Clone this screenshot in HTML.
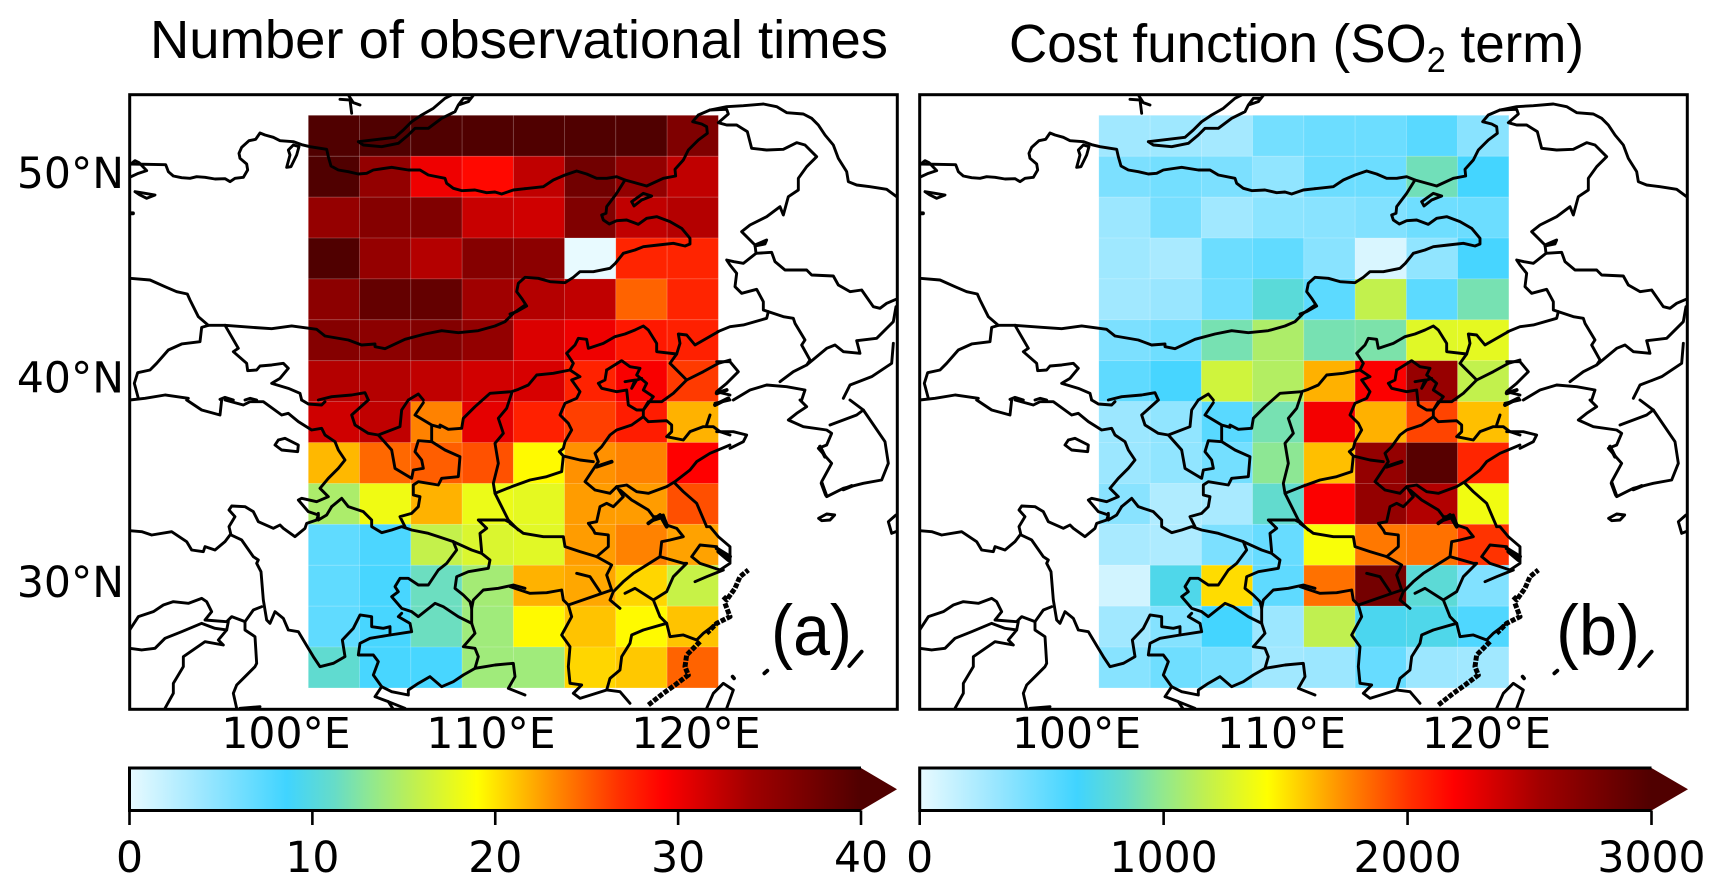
<!DOCTYPE html>
<html lang="en">
<head>
<meta charset="utf-8">
<title>Number of observational times and cost function maps</title>
<style>
html,body{margin:0;padding:0;background:#fff;}
svg{display:block;}
.map-line{fill:none;stroke:#000;stroke-width:2.9;stroke-linejoin:round;stroke-linecap:round;vector-effect:non-scaling-stroke;}
.map-thick{fill:none;stroke:#000;stroke-width:3.8;stroke-linejoin:round;stroke-linecap:round;vector-effect:non-scaling-stroke;}
.map-coast{fill:none;stroke:#000;stroke-width:5;stroke-linejoin:round;stroke-linecap:butt;stroke-dasharray:5 1.5;vector-effect:non-scaling-stroke;}
.tick-label{font-family:"DejaVu Sans","Liberation Sans",sans-serif;font-size:42.5px;fill:#000;}
.title{font-family:"Liberation Sans",sans-serif;font-size:54px;fill:#000;}
.panel-letter{font-family:"Liberation Sans",sans-serif;font-size:71px;fill:#000;}
</style>
</head>
<body>
<svg id="figure" xmlns="http://www.w3.org/2000/svg" width="1721" height="892" viewBox="0 0 1721 892">
<defs>
<clipPath id="clip-a"><rect x="129.7" y="94.7" width="767.6" height="614.6"/></clipPath>
<clipPath id="clip-b"><rect x="919.7" y="94.7" width="767.6" height="614.6"/></clipPath>
<g id="basemap">
<g transform="translate(125,90) scale(0.33333)">
<path class="map-line" d="M14,222 122,224 130,245 145,258 170,263 195,265 215,260 240,262 270,267 300,266 315,275 330,265 355,262 368,240 365,222 345,205 342,190 350,172 372,152 392,148 405,129 420,135 445,142 465,152 505,155 530,164 555,170 605,178 610,200 618,228 640,240 670,245 700,252 725,250 745,240 800,232 850,240 885,240 910,255 960,265 965,280 985,295 1010,302 1050,300 1085,308 1110,306 1130,312 1165,300 1200,296"/>
<path class="map-line" d="M1200,645 1165,670 1140,695 1110,708 1060,722 1000,728 950,722 900,732 840,748 780,776 750,770 750,762 710,765 670,750 600,738 575,718 500,708 440,716 380,712 300,706 250,706 220,680 195,630 187,612 155,605 120,590 75,570 15,565"/>
<path class="map-line" d="M300,706 340,775 325,785 365,820 368,842 395,840 405,828 440,825 475,820 490,835 465,865 440,880 490,895 525,910 530,930"/>
<path class="map-line" d="M250,706 230,712 225,755 170,762 130,780 95,820 75,840 38,848 28,880 40,925"/>
<path class="map-line" d="M14,930 60,925 120,915 190,925"/>
<path class="map-line" d="M285,928 300,922 325,930M360,930 375,925 395,930"/>
<path class="map-line" d="M580,930 620,920 680,915 720,908 730,930M850,930 880,912 895,930"/>
<path class="map-line" d="M700,155 760,148 810,142 835,120 860,95 890,75 925,55 960,25 978,16M700,155 715,165 770,170 820,160 850,135 870,115 910,115 950,85 990,65 1000,45 1030,35 1045,16M1000,45 1015,25 1035,25 1030,35"/>
<path class="map-line" d="M645,28 675,30 680,70M672,18 685,38 705,45"/>
<path class="map-line" d="M505,165 490,180 495,195 485,232 498,230 515,195 522,170 505,165"/>
<path class="map-line" d="M30,305 60,310 90,315 65,325 45,315 30,305"/>
<path class="map-line" d="M14,225 30,212 42,218 65,242 40,250 14,262"/>
<path class="map-thick" d="M16,370 24,370"/>
</g>
<g transform="translate(510,90) scale(0.33333)">
<path class="map-line" d="M45,296 100,290 130,270 165,255 200,243 230,252 260,265 290,265 320,260 345,270 410,288 460,265 497,258 495,238 520,210 535,180 565,150 592,130 590,110 575,102 548,95 565,75 600,60 650,50 700,47 760,42 800,50 830,68 880,72 905,85 925,105 945,135 970,165 985,205 1010,245 1015,275 1040,285 1080,290 1130,298 1160,320"/>
<path class="map-line" d="M345,270 320,310 290,350 288,370 275,375 280,390 298,402 320,392 350,390 385,403 410,385 440,380 480,395 515,415 540,445 540,462 525,468 490,460 445,465 400,470 375,480 340,490 316,520 300,535 250,545 210,545 190,562 165,578 120,575 85,565 45,562 25,580 20,605 35,625 50,648 20,665 0,672"/>
<path class="map-line" d="M365,335 400,310 425,318 395,330 372,348 365,335"/>
<path class="map-line" d="M600,60 650,58 655,72 625,98 650,105 680,105 712,125 725,175 770,180 820,178 860,158 885,165 920,200 890,230 865,265 865,300 835,320 820,375 810,350 770,380 720,405 695,425 735,465 738,490 785,487 795,515 825,540 890,540 905,555 970,558 985,585 1020,605 1055,600 1090,650 1110,655 1130,640 1158,628"/>
<path class="map-line" d="M735,465 770,450 765,462 735,468"/>
<path class="map-line" d="M738,490 700,520 672,515 650,510 660,525 680,550 675,590 695,610 740,598 760,635 760,660 820,680 850,685 855,700 885,750 875,765 900,810 890,825 950,775 975,765 1000,785 1050,790 1040,752 1100,745 1150,695 1158,650"/>
<path class="map-line" d="M775,665 770,685 700,705 660,710 623,725"/>
<path class="map-line" d="M620,815 660,815 685,845 650,880 620,905 660,915"/>
<path class="map-line" d="M890,825 850,845 810,875"/>
<path class="map-line" d="M1150,760 1145,820 1085,860 1020,885 1000,925"/>
<path class="map-line" d="M670,930 720,900 770,885 830,890 885,900 875,930"/>
</g>
<g transform="translate(440,330) scale(0.33333)">
<path class="map-line" d="M0,285 25,298 65,295 70,265 105,230 150,190 215,185 235,178 265,165 290,135 340,130 390,120 405,130 420,140 395,150 420,185 410,205 375,220 360,255 385,280 395,300 375,335 370,355 358,365 370,378 365,425 320,440 270,450 215,470 165,490"/>
<path class="map-line" d="M215,190 200,235 175,265 190,310 165,340 175,400 160,460 165,490 185,530 205,570 235,600"/>
<path class="map-line" d="M390,120 400,100 380,70 405,45 415,25 440,28 445,55 490,40 525,20 555,12 585,0 610,-12 625,0 650,40 650,65 710,72 720,40 715,12 740,15 765,45 835,5"/>
<path class="map-line" d="M710,72 690,100 740,150 700,190 665,215 625,215 610,240 610,260"/>
<path class="map-line" d="M500,120 545,92 570,110 600,115 590,135 620,160 610,180 640,200 610,240"/>
<path class="map-line" d="M500,120 495,150 475,160 485,175 530,185 560,180 565,225 590,240 610,240"/>
<path class="map-line" d="M555,155 585,150 575,175 590,150 605,145"/>
<path class="map-line" d="M610,260 625,275 680,272 695,285 695,305 680,320 730,330 750,305 790,290 820,290 840,305 870,315"/>
<path class="map-line" d="M800,285 810,255"/>
<path class="map-line" d="M610,260 575,285 530,300 510,315 485,350 465,370 475,395 435,455 465,480 510,490 530,470 560,465 590,485 625,490 680,470 705,455 750,420 770,395 810,370 870,345"/>
<path class="map-line" d="M370,378 420,390 460,395"/>
<path class="map-thick" d="M470,410 515,395"/>
<path class="map-line" d="M705,460 730,485 770,520 800,590"/>
<path class="map-line" d="M530,470 550,500 520,530 500,520 480,530 470,575 445,580 460,600"/>
<path class="map-line" d="M540,480 575,510 625,540 640,560"/>
<path class="map-line" d="M740,150 790,125 835,100 870,90"/>
<path class="map-thick" d="M830,190 860,180M825,225 865,205"/>
<path class="map-thick" d="M625,580 660,555 680,590"/>
</g>
<g transform="translate(125,400) scale(0.33333)">
<path class="map-line" d="M185,0 230,30 285,45 290,0"/>
<path class="map-line" d="M530,0 550,12 590,15 600,5"/>
<path class="map-line" d="M300,0 355,15 375,5 415,5 470,45 490,40 520,65 560,90 590,85 600,105 630,125 640,150 660,180 640,205 610,235 585,265 610,290 575,305 530,295 520,300 550,335 580,345 575,360 545,370 540,385 510,410 475,385 465,375 445,385 400,365 385,335 360,320 320,318 312,330 330,350 312,380 318,405 350,420 385,470 400,480 395,490 408,515 415,600 425,660 435,670 450,635 475,655 490,690 520,695 550,745 565,770 585,800 625,790 660,770 652,720 685,685 705,645 740,650 740,680 775,685 795,680 795,705 735,715 705,730 700,765 745,765 760,785 745,825 770,860 750,890 790,905 805,928"/>
<path class="map-line" d="M620,320 650,295 670,320 715,335 740,360 740,380 770,398 800,390 830,380 860,390 910,400 940,410 985,425 1040,450 1070,460 1095,480 1090,505 1030,515 995,530 990,565 1015,585 1035,605 1040,625 1040,670"/>
<path class="map-line" d="M620,320 605,345 580,360 580,340"/>
<path class="map-line" d="M840,380 825,350 860,340 880,320 885,290 865,285 865,255 880,245 940,255 950,235 1000,230 1005,170 960,150 920,125 880,122 870,155 890,180 895,205 865,210 860,235 810,205 800,150 760,105 730,100 690,75 680,45 730,0"/>
<path class="map-line" d="M760,105 825,80 830,30 850,0"/>
<path class="map-line" d="M870,45 895,8M870,45 920,75 945,82M920,75 920,125"/>
<path class="map-line" d="M1060,360 1140,360 1150,365M1060,360 1085,385 1065,400 1070,455"/>
<path class="map-line" d="M985,425 995,450 965,490 940,510 910,555 880,555 850,535 825,535 810,560 820,575 800,590 830,625 860,635 880,650 930,610 955,620 1000,650 1040,670"/>
<path class="map-line" d="M830,640 820,650 855,670 860,695 795,705"/>
<path class="map-line" d="M1040,625 1045,600 1075,570 1120,565 1165,555 1200,565"/>
<path class="map-line" d="M1040,670 1050,700 1015,740 1050,745 1060,770 1050,805 1015,825 985,845 950,860 915,830 880,850 850,870 850,885 800,875 770,860"/>
<path class="map-line" d="M1050,805 1080,800 1110,795 1165,790 1170,830 1150,865 1175,875 1200,885"/>
<path class="map-line" d="M14,745 50,750 90,745 120,715 170,695 230,670 270,685 305,690 280,720 295,735 240,725 175,770 175,800 145,850 145,880 120,925"/>
<path class="map-line" d="M14,690 40,650 85,635 115,615 145,605 190,610 230,595 245,605 260,635 240,660 305,665 320,650 360,665 360,690 390,710 395,790 390,800 360,830 335,855 325,880 335,925"/>
<path class="map-line" d="M310,665 305,690M360,665 385,630 410,620"/>
<path class="map-line" d="M460,120 480,115 520,135 518,155 470,150 450,135 460,120"/>
<path class="map-line" d="M14,392 50,395 80,405 140,395 185,425 200,450 235,455 240,440 270,450 300,425 315,405"/>
<path class="map-line" d="M345,925 405,920"/>
<path class="map-line" d="M790,905 840,925"/>
</g>
<g transform="translate(510,400) scale(0.33333)">
<path class="map-line" d="M0,370 40,400 100,410 160,410 165,440 210,455 260,470 305,495 290,525 305,570 175,615 185,650 155,705 180,740 175,800 180,850 215,855 190,880 210,895 290,870 330,875 360,910"/>
<path class="map-line" d="M250,390 255,400 295,405 295,440 260,470"/>
<path class="map-line" d="M430,350 440,350 460,345 470,375 500,385 520,410 480,420 455,425 450,470 370,520 340,545 310,575 300,600 330,625"/>
<path class="map-line" d="M590,380 600,380 625,410 660,440 660,490 630,510 600,500 570,490 545,470 570,435 620,440"/>
<path class="map-line" d="M450,470 520,490 530,490 490,530 470,575 430,600 375,565 345,580"/>
<path class="map-line" d="M430,600 450,650 470,670 480,710 520,705 560,720 580,700 620,670"/>
<path class="map-line" d="M470,670 400,690 365,705 360,730 335,770 330,810 300,835 290,870"/>
<path class="map-line" d="M200,520 240,530 270,575"/>
<path class="map-line" d="M0,560 60,580 110,578 155,570 160,600 175,615"/>
<path class="map-line" d="M555,545 590,530 640,510"/>
<path class="map-line" d="M620,95 670,95 710,105 700,125 660,145"/>
<path class="map-thick" d="M430,360 460,350 470,375"/>
<path class="map-thick" d="M620,445 660,470M625,455 655,480"/>
<path class="map-coast" d="M640,590 650,600 675,565 690,530 715,510M645,610 660,650 620,670 590,700"/>
<path class="map-coast" d="M570,725 530,765 525,800 535,825 495,855 460,880 415,915"/>
<path class="map-thick" d="M1018,798 1055,755"/>
<path class="map-thick" d="M763,820 772,812M668,830 672,835"/>
<path class="map-line" d="M590,925 610,880 640,850 670,870 650,925"/>
<path class="map-line" d="M870,0 890,20 860,40 835,60 880,80 950,90 965,100 950,135 925,145 965,190 935,245 950,290 1000,265 1060,250 1115,240 1135,190 1125,125 1060,30 1020,0"/>
<path class="map-line" d="M960,75 1040,45 1060,30"/>
<path class="map-thick" d="M930,140 945,170M935,250 948,285M1000,268 1025,258"/>
<path class="map-line" d="M926,355 950,342 974,345 960,360 935,362 926,355"/>
<path class="map-line" d="M1158,345 1135,365 1145,400 1158,395"/>
<path class="map-line" d="M615,10 660,0"/>
</g>
</g>
</defs>

<rect x="0" y="0" width="1721" height="892" fill="#fff"/>

<text class="title" x="150" y="58" textLength="738" lengthAdjust="spacingAndGlyphs">Number of observational times</text>
<text class="title" x="1009" y="62" textLength="575" lengthAdjust="spacingAndGlyphs">Cost function (SO<tspan font-size="35" dy="10">2</tspan><tspan dy="-10"> term)</tspan></text>

<g id="panel-a">
  <g id="cells-a"></g>
  <g clip-path="url(#clip-a)"><use href="#basemap"/></g>
  <rect x="129.7" y="94.7" width="767.6" height="614.6" fill="none" stroke="#000" stroke-width="3"/>
  <g id="axis-a"></g>
  <text class="panel-letter" x="771" y="655" textLength="81" lengthAdjust="spacingAndGlyphs">(a)</text>
  <g id="cbar-a"></g>
</g>

<g id="panel-b">
  <g id="cells-b"></g>
  <g clip-path="url(#clip-b)"><use href="#basemap" x="790" y="0"/></g>
  <rect x="919.7" y="94.7" width="767.6" height="614.6" fill="none" stroke="#000" stroke-width="3"/>
  <g id="axis-b"></g>
  <text class="panel-letter" x="1556" y="655" textLength="84" lengthAdjust="spacingAndGlyphs">(b)</text>
  <g id="cbar-b"></g>
</g>
</svg>

<script>
const lonTicks = [100, 110, 120];
const latTicks = [50, 40, 30];
const cbarTicksA = [0, 10, 20, 30, 40];
const cbarTicksB = [0, 1000, 2000, 3000];
const valuesA = [
  [40,40,40,40,40,40,40,36.5],
  [40,35,30,28.8,32.4,37.5,35,32.4],
  [34.8,36,36.4,32,31.6,36.4,32.4,33],
  [40,34.8,33,36,35.5,0,27.4,27.4],
  [35.5,38.5,38.5,34,33,32.4,24.8,27.4],
  [36,35.5,36.2,35,31,30,28,27.6],
  [33,33,32.4,31.5,31.2,27.5,29.5,26.4],
  [31.6,32.4,23.6,30.5,27.6,26.2,27.8,21.8],
  [21.6,24.6,25,25.5,19.2,23,23.6,29.2],
  [14.6,18.2,21.8,18,17.6,22.6,22.6,25.6],
  [7,8,15.8,17,17.4,22.6,23.6,22.4],
  [7,8.2,11.5,14.2,21.8,22.2,20.5,16],
  [7,8.2,11.5,14,19.2,21.2,19.2,21.2],
  [10.8,8.2,8.2,14,14,20.5,21,24.8]
];
const valuesB = [
  [280,290,265,450,480,480,550,370],
  [420,450,420,340,480,480,880,630],
  [300,440,280,360,370,400,470,480],
  [290,250,480,520,370,60,340,620],
  [280,310,460,780,540,1180,540,900],
  [420,470,900,1100,900,920,1300,1320],
  [530,620,1230,1120,1640,2200,2600,1180],
  [300,340,550,900,2230,1640,1950,1600],
  [300,340,450,980,1600,2620,2960,2050],
  [370,220,250,820,2200,2620,2480,1370],
  [250,230,420,500,1400,1800,1820,2000],
  [90,720,1520,530,1820,2800,790,400],
  [280,390,630,300,1170,700,720,590],
  [380,470,420,280,300,500,300,280]
];
const cmapPositions = [0, 0.1, 0.215, 0.28, 0.33, 0.39, 0.475, 0.58, 0.67, 0.73, 0.85, 1];
const cmapColors = ['#e8faff','#9ce7ff','#40d4ff','#66dcc8','#90e890','#c0f050','#ffff00','#ff8c00','#ff3000','#ff0000','#a00000','#500000'];

const SVG_NS = 'http://www.w3.org/2000/svg';
const firstLon = 101.09, lonStep = 2.5, firstLat = 52.82, latStep = 2;
function xScale(lon, shift) { return 286 + (lon - 100) * 20.5 + shift; }
function yScale(lat) { return 173 + (50 - lat) * 20.45; }
function hexToRgb(h) { return [1, 3, 5].map(function (i) { return parseInt(h.substr(i, 2), 16); }); }
function cmap(t) {
  t = Math.max(0, Math.min(1, t));
  let i = 0;
  while (i < cmapPositions.length - 2 && t > cmapPositions[i + 1]) i++;
  const f = (t - cmapPositions[i]) / (cmapPositions[i + 1] - cmapPositions[i]);
  const a = hexToRgb(cmapColors[i]), b = hexToRgb(cmapColors[i + 1]);
  const c = a.map(function (v, k) { return Math.round(v + (b[k] - v) * f); });
  return 'rgb(' + c.join(',') + ')';
}
function make(tag, attrs) {
  const el = document.createElementNS(SVG_NS, tag);
  Object.keys(attrs).forEach(function (k) { el.setAttribute(k, attrs[k]); });
  return el;
}
function drawCells(target, rows, vmax, shift) {
  rows.forEach(function (row, r) {
    row.forEach(function (v, c) {
      const x0 = xScale(firstLon + c * lonStep, shift), x1 = xScale(firstLon + (c + 1) * lonStep, shift);
      const y0 = yScale(firstLat - r * latStep), y1 = yScale(firstLat - (r + 1) * latStep);
      const cell = make('rect', { x: x0, y: y0, width: x1 - x0, height: y1 - y0, fill: cmap(v / vmax), stroke: 'rgba(255,255,255,0.16)', 'stroke-width': 0.8 });
      
      
      target.appendChild(cell);
    });
  });
}
function drawAxis(target, shift, frameLeft) {
  lonTicks.forEach(function (lon) {
    const t = make('text', { x: xScale(lon, shift), y: 748, 'text-anchor': 'middle', class: 'tick-label' });
    t.textContent = lon + '°E';
    
    
    target.appendChild(t);
  });
  if (frameLeft === null) return;
  latTicks.forEach(function (lat) {
    const t = make('text', { x: frameLeft, y: yScale(lat) + 15, 'text-anchor': 'end', class: 'tick-label' });
    t.textContent = lat + '°N';
    
    
    target.appendChild(t);
  });
}
function drawColorbar(target, ticks, vmax, left, right, tip, id) {
  const grad = make('linearGradient', { id: id, x1: 0, x2: 1, y1: 0, y2: 0 });
  cmapPositions.forEach(function (p, i) {
    grad.appendChild(make('stop', { offset: p, 'stop-color': cmapColors[i] }));
  });
  document.querySelector('defs').appendChild(grad);
  const top = 768, bottom = 810.5;
  const bar = make('rect', { x: left, y: top, width: right - left, height: bottom - top, fill: 'url(#' + id + ')' });
  
  
  target.appendChild(bar);
  const arrow = make('polygon', { points: right + ',' + top + ' ' + tip + ',' + ((top + bottom) / 2) + ' ' + right + ',' + bottom, fill: cmapColors[cmapColors.length - 1] });
  
  
  target.appendChild(arrow);
  const outline = make('path', { d: 'M' + right + ',' + top + ' L' + left + ',' + top + ' L' + left + ',' + bottom + ' L' + right + ',' + bottom, fill: 'none', stroke: '#000', 'stroke-width': 3 });
  
  
  target.appendChild(outline);
  ticks.forEach(function (v) {
    const x = left + (right - left) * v / vmax;
    const line = make('line', { x1: x, x2: x, y1: bottom, y2: 825, stroke: '#000', 'stroke-width': 2.6 });
    
    
    target.appendChild(line);
    const t = make('text', { x: x, y: 872, 'text-anchor': 'middle', class: 'tick-label' });
    t.textContent = String(v);
    
    
    target.appendChild(t);
  });
}
drawCells(document.getElementById('cells-a'), valuesA, 40, 0);
drawCells(document.getElementById('cells-b'), valuesB, 3000, 790.5);
drawAxis(document.getElementById('axis-a'), 0, 124);
drawAxis(document.getElementById('axis-b'), 790.5, null);
drawColorbar(document.getElementById('cbar-a'), cbarTicksA, 40, 129.5, 861, 897, 'grad-a');
drawColorbar(document.getElementById('cbar-b'), cbarTicksB, 3000, 919.7, 1651.5, 1688, 'grad-b');
</script>
</body>
</html>
